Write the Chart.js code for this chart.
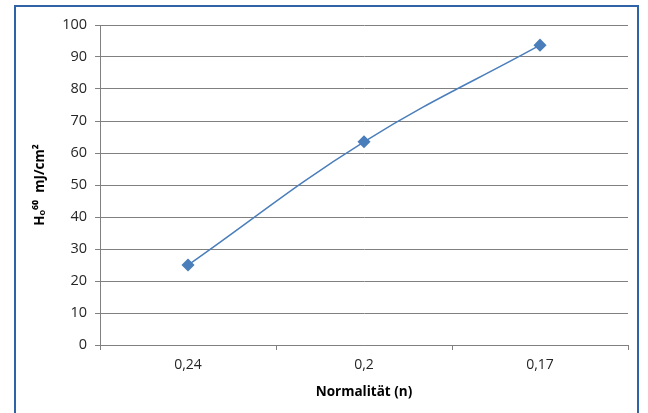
<!DOCTYPE html>
<html lang="de">
<head>
  <meta charset="UTF-8">
  <title>Normalität</title>
  <script src="https://cdn.jsdelivr.net/npm/chart.js"></script>
  <style>
    body { margin: 0; background: #ffffff; }
    .wrap { position: relative; width: 648px; height: 413px; overflow: hidden; }
    .frame {
      position: absolute; left: 14px; top: 5px; width: 621px; height: 420px;
      border: 2px solid #2f63a6;
    }
    canvas { position: absolute; left: 0; top: 0; }
  </style>
</head>
<body>
  <div class="wrap">
    <div class="frame"></div>
    <canvas id="chart" width="648" height="413"></canvas>
  </div>

  <script>
    // data
    const normality = ['0,24', '0,2', '0,17'];
    const energy = [25, 63.5, 93.7];
    const yTicks = [0, 10, 20, 30, 40, 50, 60, 70, 80, 90, 100];

    const font = "'Open Sans', 'Liberation Sans', sans-serif";

    new Chart(document.getElementById('chart'), {
      type: 'line',
      data: {
        labels: normality,
        datasets: [{
          data: energy,
          borderColor: '#4a7ebb',
          backgroundColor: '#4a7ebb',
          borderWidth: 1.5,
          tension: 0.4,
          pointStyle: 'rectRot',
          pointRadius: 5.5,
          pointHoverRadius: 5.5
        }]
      },
      options: {
        responsive: false,
        animation: false,
        layout: { padding: { left: 0, right: 20, top: 25, bottom: 0 } },
        plugins: { legend: { display: false }, tooltip: { enabled: false } },
        scales: {
          x: {
            offset: true,
            afterFit: s => { s.height = 68; },
            grid: { drawOnChartArea: false, color: '#808080', tickLength: 5, offset: true },
            border: { color: '#808080', width: 1 },
            ticks: { color: '#262626', padding: 7, font: { family: font, size: 14 } },
            title: {
              display: true, text: 'Normalität (n)', color: '#000000',
              padding: { top: 0, bottom: 13 },
              font: { family: font, size: 13.5, weight: 'bold' }
            }
          },
          y: {
            min: 0, max: 100,
            afterFit: s => { s.width = 100; },
            afterBuildTicks: s => { s.ticks = yTicks.map(v => ({ value: v })); },
            grid: { color: '#808080', tickLength: 5 },
            border: { color: '#808080', width: 1 },
            ticks: { color: '#262626', padding: 8, font: { family: font, size: 14.5 } },
            title: {
              display: true, text: 'Hₒ⁶⁰  mJ/cm²', color: '#000000',
              padding: { top: 32, bottom: 0 },
              font: { family: font, size: 13.5, weight: 'bold' }
            }
          }
        }
      }
    });
  </script>
</body>
</html>
